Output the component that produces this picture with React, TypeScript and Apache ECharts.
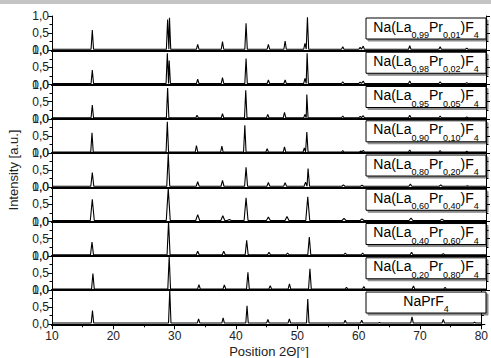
import React, { useEffect, useRef } from "react";
import * as echarts from "echarts";

const X_MIN = 10;
const X_MAX = 80;
const X_INTERVAL = 10;
const yTickValues = [0, 0.5, 1];

const laFractions = ["0,99", "0,98", "0,95", "0,90", "0,80", "0,60", "0,40", "0,20"];
const prFractions = ["0,01", "0,02", "0,05", "0,10", "0,20", "0,40", "0,60", "0,80"];
const lastSampleName = "NaPrF";
const lastSampleSub = "4";

// [position 2θ, relative intensity]
const peaks_La099 = [[16.5, 0.59], [28.65, 0.9], [28.95, 0.95], [33.5, 0.17], [37.5, 0.25], [41.3, 0.79], [44.9, 0.17], [47.6, 0.27], [50.8, 0.2], [51.2, 0.96], [56.9, 0.1], [59.7, 0.09], [60.2, 0.12], [67.7, 0.13], [72.6, 0.1], [76.9, 0.06]];
const peaks_La098 = [[16.5, 0.42], [28.6, 0.91], [28.9, 0.7], [33.5, 0.16], [37.5, 0.2], [41.3, 0.76], [44.9, 0.13], [47.6, 0.13], [50.8, 0.18], [51.15, 0.91], [56.9, 0.08], [59.7, 0.07], [60.2, 0.1], [67.7, 0.1], [72.6, 0.08], [76.9, 0.05]];
const peaks_La095 = [[16.5, 0.4], [28.65, 0.9], [33.4, 0.1], [37.5, 0.15], [41.25, 0.83], [44.8, 0.13], [47.5, 0.19], [50.8, 0.13], [51.1, 0.71], [56.9, 0.08], [59.7, 0.07], [60.2, 0.09], [67.7, 0.1], [72.6, 0.08], [76.9, 0.05]];
const peaks_La090 = [[16.45, 0.59], [28.6, 0.91], [33.3, 0.22], [37.4, 0.2], [41.1, 0.81], [44.7, 0.13], [47.5, 0.18], [50.7, 0.15], [51.1, 0.61], [56.9, 0.07], [59.8, 0.06], [60.2, 0.08], [67.7, 0.09], [72.6, 0.07], [76.9, 0.05]];
const peaks_La080 = [[16.5, 0.43], [28.75, 0.98], [33.5, 0.16], [37.5, 0.2], [41.3, 0.58], [44.9, 0.14], [47.6, 0.13], [50.9, 0.15], [51.3, 0.55], [57.0, 0.07], [60.0, 0.06], [67.8, 0.09], [72.7, 0.07], [77.0, 0.04]];
const peaks_La060 = [[16.5, 0.65], [28.75, 0.96], [33.5, 0.2], [37.55, 0.17], [38.6, 0.06], [41.3, 0.69], [44.9, 0.13], [47.9, 0.15], [51.25, 0.72], [57.1, 0.09], [60.0, 0.08], [67.9, 0.1], [72.9, 0.07]];
const peaks_La040 = [[16.45, 0.4], [28.8, 1.0], [33.5, 0.13], [37.7, 0.13], [41.4, 0.45], [45.0, 0.1], [48.0, 0.08], [51.5, 0.55], [57.3, 0.08], [60.1, 0.08], [68.0, 0.1], [73.1, 0.06]];
const peaks_La020 = [[16.6, 0.48], [28.9, 0.98], [33.7, 0.16], [37.8, 0.15], [41.6, 0.52], [45.2, 0.13], [48.3, 0.18], [51.6, 0.62], [57.5, 0.08], [60.3, 0.1], [68.3, 0.12], [73.4, 0.08]];
const peaks_NaPrF4 = [[16.6, 0.4], [29.2, 1.0], [33.9, 0.16], [37.9, 0.19], [41.8, 0.54], [45.2, 0.14], [48.7, 0.16], [51.7, 0.74], [57.8, 0.12], [60.5, 0.12], [63.4, 0.05], [68.7, 0.22], [73.8, 0.14], [78.9, 0.06]];

const panelPeaks = [peaks_La099, peaks_La098, peaks_La095, peaks_La090, peaks_La080, peaks_La060, peaks_La040, peaks_La020, peaks_NaPrF4];
const baselines = [0.03, 0.03, 0.03, 0.03, 0.03, 0.03, 0.03, 0.03, 0.04];
const peakHalfWidths = [0.2, 0.2, 0.2, 0.2, 0.24, 0.32, 0.24, 0.22, 0.2];

const W = 491;
const H = 358;
const GRID_LEFT = 52;
const GRID_RIGHT_X = 486;
const GRID_TOP = 16;
const GRID_BOTTOM_Y = 324.3;
const N = panelPeaks.length;
const PANEL_H = (GRID_BOTTOM_Y - GRID_TOP) / N;

function buildLine(peaks: number[][], base: number, w: number) {
  const pts: number[][] = [[X_MIN, base]];
  for (const [p, h] of peaks) {
    pts.push([p - w, base], [p, h], [p + w, base]);
  }
  pts.push([X_MAX, base]);
  return pts;
}

const FONT = "'Liberation Sans', Arial, sans-serif";

export default function App() {
  const ref = useRef<HTMLDivElement>(null);
  useEffect(() => {
    document.body.style.margin = "0";
    if (!ref.current) return;
    const chart = echarts.init(ref.current, undefined, { renderer: "svg" });

    const grids: any[] = [];
    const xAxes: any[] = [];
    const yAxes: any[] = [];
    const series: any[] = [];
    const graphics: any[] = [];

    graphics.push({
      type: "rect",
      shape: { x: 0, y: 0, width: W, height: 4 },
      style: { fill: "#c4c4c4" },
      silent: true,
    });

    for (let i = 0; i < N; i++) {
      const top = GRID_TOP + i * PANEL_H;
      const isLast = i === N - 1;
      grids.push({ left: GRID_LEFT, width: GRID_RIGHT_X - GRID_LEFT, top, height: PANEL_H });
      xAxes.push({
        type: "value",
        gridIndex: i,
        min: X_MIN,
        max: X_MAX,
        interval: X_INTERVAL,
        position: "bottom",
        axisLine: { show: true, lineStyle: { color: "#000", width: 2 } },
        axisTick: { show: isLast, length: 5, lineStyle: { color: "#000", width: 1 } },
        minorTick: { show: isLast, splitNumber: 2, length: 3, lineStyle: { color: "#000", width: 1 } },
        axisLabel: { show: isLast, fontSize: 12, color: "#222", fontFamily: FONT, margin: 6 },
        splitLine: { show: false },
      });
      xAxes.push({
        type: "value",
        gridIndex: i,
        min: X_MIN,
        max: X_MAX,
        interval: X_INTERVAL,
        position: "top",
        axisLine: { show: true, lineStyle: { color: "#000", width: 2 } },
        axisTick: { show: false },
        axisLabel: { show: false },
        splitLine: { show: false },
      });
      yAxes.push({
        type: "value",
        gridIndex: i,
        min: 0,
        max: 1,
        interval: 0.5,
        position: "left",
        axisLine: { show: true, lineStyle: { color: "#000", width: 1 } },
        axisTick: { show: true, length: 4, lineStyle: { color: "#000" } },
        minorTick: { show: true, splitNumber: 2, length: 2.5, lineStyle: { color: "#000" } },
        axisLabel: {
          show: true,
          fontSize: 12,
          color: "#222",
          fontFamily: FONT,
          margin: 3,
          formatter: (v: number) => (yTickValues.includes(v) ? v.toFixed(1).replace(".", ",") : ""),
        },
        splitLine: { show: false },
      });
      yAxes.push({
        type: "value",
        gridIndex: i,
        min: 0,
        max: 1,
        interval: 0.5,
        position: "right",
        axisLine: { show: true, lineStyle: { color: "#000", width: 1 } },
        axisTick: { show: true, length: 4, lineStyle: { color: "#000" } },
        minorTick: { show: true, splitNumber: 2, length: 2.5, lineStyle: { color: "#000" } },
        axisLabel: { show: false },
        splitLine: { show: false },
      });
      series.push({
        type: "line",
        xAxisIndex: 2 * i,
        yAxisIndex: 2 * i,
        data: buildLine(panelPeaks[i], baselines[i], peakHalfWidths[i]),
        showSymbol: false,
        symbol: "none",
        lineStyle: { color: "#000", width: 1.1 },
        clip: true,
        z: 3,
      });

      // legend box
      const boxX = 366;
      const boxY = top + 2;
      graphics.push({
        type: "rect",
        shape: { x: boxX, y: boxY, width: GRID_RIGHT_X - boxX, height: 21 },
        style: {
          fill: "#fff",
          stroke: "#000",
          lineWidth: 1,
          shadowColor: "rgba(0,0,0,0.45)",
          shadowOffsetX: 2,
          shadowOffsetY: 2,
          shadowBlur: 0,
        },
        z: 10,
        silent: true,
      });
      const text = isLast
        ? `{m|${lastSampleName}}{s|${lastSampleSub}}`
        : `{m|Na(La}{s|${laFractions[i]}}{m|Pr}{s|${prFractions[i]}}{m|)F}{s|4}`;
      graphics.push({
        type: "text",
        x: (boxX + GRID_RIGHT_X) / 2,
        y: top + 3.5,
        z: 11,
        silent: true,
        style: {
          text,
          align: "center",
          verticalAlign: "top",
          fill: "#000",
          fontFamily: FONT,
          rich: {
            m: { fontSize: 14, lineHeight: 16, verticalAlign: "top", fontFamily: FONT, fill: "#000" },
            s: { fontSize: 9, lineHeight: 10, padding: [11, 0, 0, 0], verticalAlign: "top", fontFamily: FONT, fill: "#000" },
          },
        },
      });
    }

    graphics.push({
      type: "text",
      x: (GRID_LEFT + GRID_RIGHT_X) / 2,
      y: 344.5,
      silent: true,
      style: {
        text: "Position 2Θ[°]",
        align: "center",
        verticalAlign: "top",
        fontSize: 13,
        fontFamily: FONT,
        fill: "#222",
      },
    });
    graphics.push({
      type: "text",
      x: 13,
      y: 170,
      rotation: Math.PI / 2,
      silent: true,
      style: {
        text: "Intensity [a.u.]",
        align: "center",
        verticalAlign: "middle",
        fontSize: 13,
        fontFamily: FONT,
        fill: "#222",
      },
    });

    chart.setOption({
      animation: false,
      backgroundColor: "#fff",
      grid: grids,
      xAxis: xAxes,
      yAxis: yAxes,
      series,
      graphic: graphics,
    });
    return () => chart.dispose();
  }, []);
  return <div ref={ref} style={{ width: W, height: H }} />;
}
